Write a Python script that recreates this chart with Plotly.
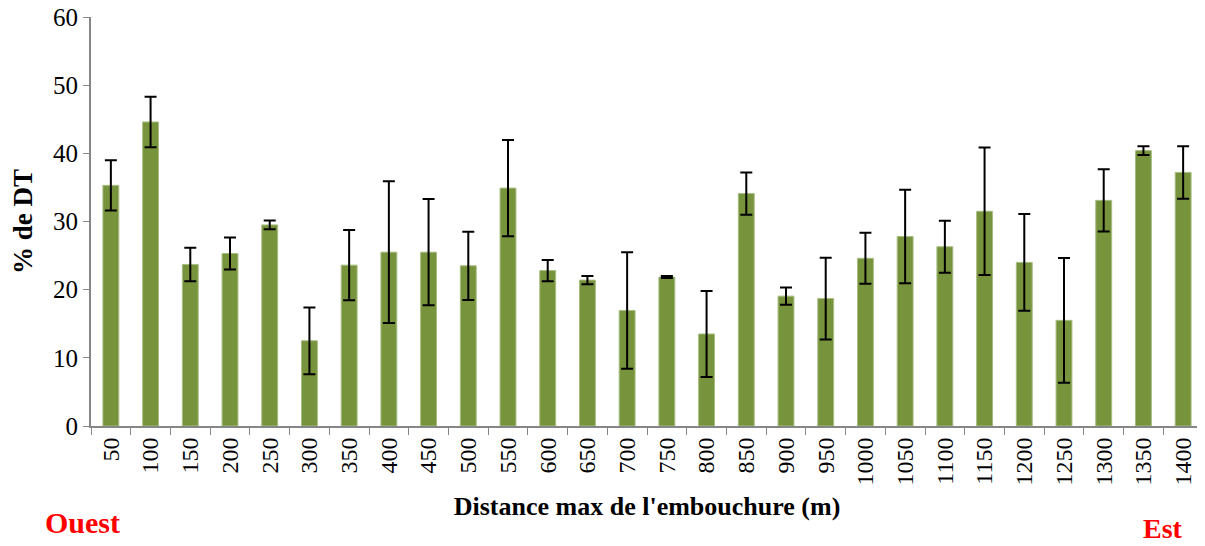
import plotly.graph_objects as go

# distance max de l'embouchure (m)
distances = [50, 100, 150, 200, 250, 300, 350, 400, 450, 500, 550, 600, 650, 700,
             750, 800, 850, 900, 950, 1000, 1050, 1100, 1150, 1200, 1250, 1300, 1350, 1400]
# % de DT (moyennes)
pct_dt = [35.3, 44.6, 23.7, 25.3, 29.5, 12.5, 23.6, 25.5, 25.5, 23.5, 34.9, 22.8, 21.4, 16.95,
          21.85, 13.5, 34.1, 19.05, 18.7, 24.6, 27.8, 26.3, 31.5, 24.0, 15.5, 33.1, 40.4, 37.2]
# ecart-type
err = [3.7, 3.7, 2.45, 2.35, 0.65, 4.9, 5.15, 10.4, 7.8, 5.0, 7.05, 1.55, 0.6, 8.55,
       0.15, 6.3, 3.1, 1.25, 6.0, 3.75, 6.85, 3.8, 9.35, 7.1, 9.15, 4.55, 0.65, 3.85]

labels = [str(d) for d in distances]
font_name = "Liberation Serif"
axis_grey = "#868686"

# the page body has an 8px margin, so the figure is a bit smaller than the window
fig = go.Figure()
fig.add_trace(go.Bar(
    x=labels,
    y=pct_dt,
    marker=dict(color="#77933C", line=dict(color="#a7bd82", width=1)),
    error_y=dict(type="data", array=err, visible=True,
                 color="black", thickness=2, width=6),
))

fig.update_layout(
    width=1197, height=538,
    margin=dict(l=83, r=2, t=9, b=120),
    plot_bgcolor="white", paper_bgcolor="white",
    bargap=0.6,
    showlegend=False,
    font=dict(family=font_name, color="black"),
    xaxis=dict(
        type="category",
        automargin=False,
        tickangle=-90,
        tickfont=dict(size=24, family=font_name),
        ticklabeloverflow="allow",
        ticks="outside", ticklen=7, tickcolor=axis_grey, tickson="boundaries",
        showline=True, linecolor=axis_grey, linewidth=2,
        showgrid=False,
        title=dict(text="<b>Distance max de l'embouchure (m)</b>",
                   font=dict(size=26, family=font_name), standoff=12),
    ),
    yaxis=dict(
        range=[0, 60], dtick=10,
        automargin=False,
        tickfont=dict(size=25, family=font_name),
        ticklabeloverflow="allow",
        ticks="outside", ticklen=6, tickcolor=axis_grey,
        showline=True, linecolor=axis_grey, linewidth=2,
        showgrid=False, zeroline=False,
        title=dict(text="<b>% de DT</b>", font=dict(size=27, family=font_name), standoff=14),
    ),
    annotations=[
        dict(text="<b>Ouest</b>", xref="paper", yref="paper", x=-0.0432, y=-0.235,
             xanchor="left", yanchor="middle", showarrow=False,
             font=dict(size=30, color="red", family=font_name)),
        dict(text="<b>Est</b>", xref="paper", yref="paper", x=0.9636, y=-0.25,
             xanchor="center", yanchor="middle", showarrow=False,
             font=dict(size=28, color="red", family=font_name)),
    ],
)

fig.write_html("out.html")
